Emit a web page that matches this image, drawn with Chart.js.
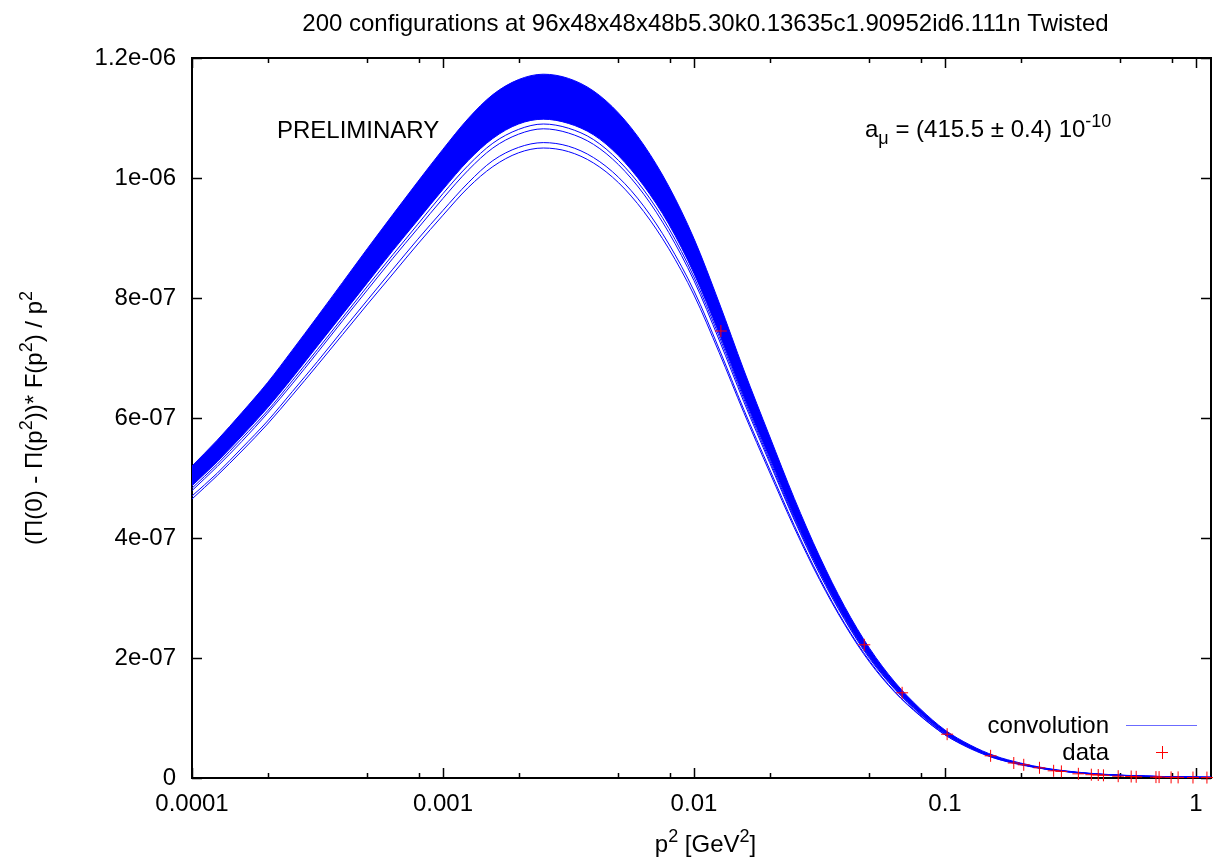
<!DOCTYPE html>
<html>
<head>
<meta charset="utf-8">
<script src="https://cdn.jsdelivr.net/npm/chart.js@4.4.1/dist/chart.umd.min.js"></script>
<style>
html, body { margin: 0; padding: 0; background: #fff; }
#wrap { width: 1218px; height: 860px; }
</style>
</head>
<body>
<div id="wrap"><canvas id="myChart" width="1218" height="860"></canvas></div>
<script>
// p^2 [GeV^2] sample points (log spaced)
const p2 = [
    1.00e-4, 1.26e-4, 1.58e-4, 2.00e-4, 2.51e-4, 3.16e-4, 3.98e-4, 5.01e-4, 6.31e-4, 7.94e-4,
    1.00e-3, 1.26e-3, 1.58e-3, 2.00e-3, 2.51e-3, 3.16e-3, 3.98e-3, 5.01e-3, 6.31e-3, 7.94e-3,
    1.00e-2, 1.26e-2, 1.58e-2, 2.00e-2, 2.51e-2, 3.16e-2, 3.98e-2, 5.01e-2, 6.31e-2, 7.94e-2,
    0.100, 0.126, 0.158, 0.200, 0.251, 0.316, 0.398, 0.501, 0.631, 0.794,
    1.00, 1.148
];

// curves in units of 1e-6
const bandTop = [
    0.520, 0.563, 0.609, 0.659, 0.713, 0.769, 0.826, 0.883, 0.939, 0.994,
    1.048, 1.099, 1.139, 1.164, 1.173, 1.166, 1.145, 1.108, 1.055, 0.986,
    0.899, 0.792, 0.680, 0.570, 0.466, 0.370, 0.286, 0.216, 0.160, 0.116,
    0.080, 0.055, 0.037, 0.025, 0.0165, 0.011, 0.0072, 0.0048, 0.0032, 0.0022,
    0.0015, 0.0012
];
const bandBottom = [
    0.487, 0.527, 0.570, 0.617, 0.667, 0.720, 0.773, 0.826, 0.879, 0.930,
    0.981, 1.029, 1.066, 1.090, 1.098, 1.091, 1.072, 1.037, 0.987, 0.923,
    0.841, 0.741, 0.636, 0.534, 0.436, 0.346, 0.268, 0.202, 0.150, 0.109,
    0.075, 0.051, 0.035, 0.023, 0.0154, 0.0103, 0.0067, 0.0045, 0.0030, 0.0021,
    0.0014, 0.0011
];
const mid1 = [
    0.483, 0.523, 0.566, 0.612, 0.662, 0.714, 0.767, 0.820, 0.872, 0.923,
    0.974, 1.021, 1.058, 1.081, 1.090, 1.083, 1.064, 1.029, 0.980, 0.916,
    0.835, 0.736, 0.632, 0.530, 0.433, 0.344, 0.266, 0.201, 0.149, 0.108,
    0.074, 0.051, 0.034, 0.023, 0.0153, 0.0102, 0.0067, 0.0045, 0.0030, 0.0020,
    0.0014, 0.0011
];
const mid2 = [
    0.479, 0.519, 0.561, 0.608, 0.657, 0.709, 0.762, 0.814, 0.866, 0.916,
    0.966, 1.013, 1.050, 1.073, 1.082, 1.075, 1.056, 1.022, 0.973, 0.909,
    0.829, 0.730, 0.627, 0.526, 0.430, 0.341, 0.264, 0.199, 0.148, 0.107,
    0.074, 0.051, 0.034, 0.023, 0.0152, 0.0101, 0.0066, 0.0044, 0.0030, 0.0020,
    0.0014, 0.0011
];
const low1 = [
    0.470, 0.508, 0.550, 0.595, 0.644, 0.694, 0.746, 0.797, 0.848, 0.898,
    0.946, 0.992, 1.029, 1.051, 1.059, 1.053, 1.034, 1.001, 0.953, 0.890,
    0.812, 0.715, 0.614, 0.515, 0.421, 0.334, 0.258, 0.195, 0.144, 0.105,
    0.072, 0.050, 0.033, 0.023, 0.0149, 0.0099, 0.0065, 0.0043, 0.0029, 0.0020,
    0.0014, 0.0011
];
const low2 = [
    0.465, 0.504, 0.545, 0.590, 0.638, 0.688, 0.739, 0.790, 0.840, 0.890,
    0.938, 0.984, 1.019, 1.042, 1.050, 1.044, 1.025, 0.992, 0.944, 0.882,
    0.805, 0.709, 0.609, 0.510, 0.417, 0.331, 0.256, 0.193, 0.143, 0.104,
    0.072, 0.049, 0.033, 0.022, 0.0148, 0.0098, 0.0064, 0.0043, 0.0029, 0.0020,
    0.0013, 0.0011
];

// measured data (red crosses)
const dataP2 = [
    0.0128, 0.0477, 0.0675, 0.102, 0.152, 0.188, 0.206, 0.238, 0.271, 0.291,
    0.340, 0.383, 0.408, 0.428, 0.490, 0.552, 0.578, 0.693, 0.713, 0.796,
    0.849, 0.973, 1.106
];
const dataVal = [
    0.745, 0.222, 0.142, 0.073, 0.037, 0.025, 0.022, 0.017, 0.012, 0.011,
    0.007, 0.0055, 0.005, 0.0045, 0.003, 0.0025, 0.002, 0.0015, 0.0015, 0.001,
    0.001, 0.0008, 0.0007
];

// axis ticks
const xMajor = [1e-4, 1e-3, 1e-2, 1e-1, 1];
const xTickLabels = ['0.0001', '0.001', '0.01', '0.1', '1'];
const xMinor = [2e-4, 5e-4, 8e-4, 2e-3, 5e-3, 8e-3, 2e-2, 5e-2, 8e-2, 0.2, 0.5, 0.8];
const yTicks = [0, 0.2, 0.4, 0.6, 0.8, 1.0, 1.2];
const yTickLabels = ['0', '2e-07', '4e-07', '6e-07', '8e-07', '1e-06', '1.2e-06'];

const FONT = "'Liberation Sans', Arial, Helvetica, sans-serif";
const FS = 24;
const BLUE = '#0000ff';

function pts(ys) {
    return p2.map((x, i) => ({ x: x, y: ys[i] }));
}

// テキストを上付き・下付き付きで描く
function drawRich(ctx, parts, x, y, align, size) {
    let w = 0;
    parts.forEach(p => {
        ctx.font = ((p.sup || p.sub) ? size * 0.75 : size) + 'px ' + FONT;
        p.w = ctx.measureText(p.t).width;
        w += p.w;
    });
    let cx = align === 'center' ? x - w / 2 : (align === 'right' ? x - w : x);
    ctx.textAlign = 'left';
    ctx.textBaseline = 'alphabetic';
    parts.forEach(p => {
        ctx.font = ((p.sup || p.sub) ? size * 0.75 : size) + 'px ' + FONT;
        const dy = p.sup ? -size * 0.42 : (p.sub ? size * 0.28 : 0);
        ctx.fillText(p.t, cx, y + dy);
        cx += p.w;
    });
}

const framePlugin = {
    id: 'frame',
    beforeDatasetsDraw(chart) {
        const ctx = chart.ctx;
        const a = chart.chartArea;
        const xs = chart.scales.x, ys = chart.scales.y;
        ctx.save();
        ctx.strokeStyle = '#000';
        ctx.lineWidth = 1.5;
        ctx.beginPath();
        xMajor.forEach(v => {
            const px = Math.round(xs.getPixelForValue(v)) + 0.5;
            ctx.moveTo(px, a.bottom); ctx.lineTo(px, a.bottom - 10);
            ctx.moveTo(px, a.top); ctx.lineTo(px, a.top + 10);
        });
        xMinor.forEach(v => {
            const px = Math.round(xs.getPixelForValue(v)) + 0.5;
            ctx.moveTo(px, a.bottom); ctx.lineTo(px, a.bottom - 5);
            ctx.moveTo(px, a.top); ctx.lineTo(px, a.top + 5);
        });
        yTicks.forEach(v => {
            const py = Math.round(ys.getPixelForValue(v)) + 0.5;
            ctx.moveTo(a.left, py); ctx.lineTo(a.left + 10, py);
            ctx.moveTo(a.right, py); ctx.lineTo(a.right - 10, py);
        });
        ctx.stroke();
        ctx.lineWidth = 2;
        ctx.strokeRect(a.left, a.top, a.right - a.left, a.bottom - a.top);
        ctx.restore();
    },
    afterDraw(chart) {
        const ctx = chart.ctx;
        const a = chart.chartArea;
        ctx.save();
        ctx.fillStyle = '#000';
        // title
        drawRich(ctx, [{ t: '200 configurations at 96x48x48x48b5.30k0.13635c1.90952id6.111n Twisted' }],
            (a.left + a.right) / 2 + 4, 31, 'center', FS);
        // x label
        drawRich(ctx, [{ t: 'p' }, { t: '2', sup: true }, { t: ' [GeV' }, { t: '2', sup: true }, { t: ']' }],
            (a.left + a.right) / 2 + 4, 852, 'center', FS);
        // y label (rotated)
        ctx.save();
        ctx.translate(42, (a.top + a.bottom) / 2);
        ctx.rotate(-Math.PI / 2);
        drawRich(ctx, [{ t: '(\u03A0(0) - \u03A0(p' }, { t: '2', sup: true }, { t: '))* F(p' }, { t: '2', sup: true },
            { t: ') / p' }, { t: '2', sup: true }], 0, 0, 'center', FS);
        ctx.restore();
        // annotations
        drawRich(ctx, [{ t: 'PRELIMINARY' }], 277, 138, 'left', FS);
        drawRich(ctx, [{ t: 'a' }, { t: '\u03BC', sub: true }, { t: ' = (415.5 \u00B1 0.4) 10' }, { t: '-10', sup: true }],
            865, 137, 'left', FS);
        // legend
        drawRich(ctx, [{ t: 'convolution' }], 1109, 733, 'right', FS);
        drawRich(ctx, [{ t: 'data' }], 1109, 760, 'right', FS);
        ctx.strokeStyle = '#6b6bff';
        ctx.lineWidth = 1;
        ctx.beginPath();
        ctx.moveTo(1126, 725.5); ctx.lineTo(1197, 725.5);
        ctx.stroke();
        ctx.strokeStyle = '#ff0000';
        ctx.beginPath();
        ctx.moveTo(1156, 752.5); ctx.lineTo(1168, 752.5);
        ctx.moveTo(1162.5, 746); ctx.lineTo(1162.5, 759);
        ctx.stroke();
        ctx.restore();
    }
};

function curve(ys, extra) {
    return Object.assign({
        data: pts(ys),
        borderColor: BLUE,
        borderWidth: 1,
        pointRadius: 0,
        fill: false,
        cubicInterpolationMode: 'monotone',
        order: 1
    }, extra || {});
}

const ctx = document.getElementById('myChart').getContext('2d');
const myChart = new Chart(ctx, {
    type: 'line',
    data: {
        datasets: [
            {
                data: dataP2.map((x, i) => ({ x: x, y: dataVal[i] })),
                showLine: false,
                pointStyle: 'cross',
                pointRadius: 6,
                borderColor: '#ff0000',
                borderWidth: 1,
                clip: false,
                order: 0
            },
            curve(bandTop, { fill: '+1', backgroundColor: BLUE }),
            curve(bandBottom),
            curve(mid1),
            curve(mid2),
            curve(low1),
            curve(low2)
        ]
    },
    options: {
        responsive: false,
        animation: false,
        devicePixelRatio: 1,
        layout: { padding: { left: 0, top: 58, right: 3, bottom: 0 } },
        plugins: { legend: { display: false }, tooltip: { enabled: false } },
        scales: {
            x: {
                type: 'logarithmic',
                min: 1e-4,
                max: 1.148,
                grid: { display: false, drawTicks: false },
                border: { display: false },
                afterBuildTicks: s => { s.ticks = xMajor.map(v => ({ value: v })); },
                afterFit: s => { s.height = 82; s.paddingLeft = 0; s.paddingRight = 0; },
                ticks: {
                    padding: 12,
                    maxRotation: 0,
                    autoSkip: false,
                    color: '#000',
                    font: { family: FONT, size: FS },
                    callback: v => xTickLabels[xMajor.indexOf(v)]
                }
            },
            y: {
                type: 'linear',
                min: 0,
                max: 1.2,
                grid: { display: false, drawTicks: false },
                border: { display: false },
                afterBuildTicks: s => { s.ticks = yTicks.map(v => ({ value: v })); },
                afterFit: s => { s.width = 192; },
                ticks: {
                    padding: 16,
                    color: '#000',
                    font: { family: FONT, size: FS },
                    callback: v => yTickLabels[yTicks.indexOf(v)]
                }
            }
        }
    },
    plugins: [framePlugin]
});
</script>
</body>
</html>
